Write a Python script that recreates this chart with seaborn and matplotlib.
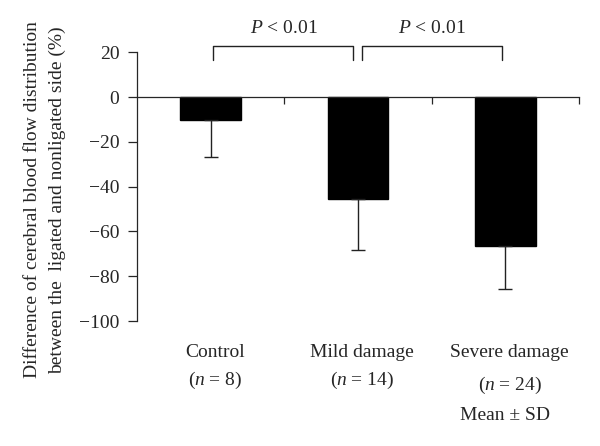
import matplotlib
matplotlib.use('Agg')
import matplotlib.pyplot as plt
import numpy as np
import pandas as pd
import seaborn as sns

# values
groups = ['Control', 'Mild damage', 'Severe damage']
n_labels = ['8', '14', '24']
means = [-10.3, -45.5, -66.5]
sds = [16.5, 22.8, 19.2]

df = pd.DataFrame({'group': groups, 'value': means})

sns.set_style('ticks')
plt.rcParams['font.family'] = ['Liberation Serif', 'DejaVu Serif']
plt.rcParams['mathtext.fontset'] = 'custom'
plt.rcParams['mathtext.rm'] = 'Liberation Serif'
plt.rcParams['mathtext.it'] = 'Liberation Serif:italic'
plt.rcParams['axes.linewidth'] = 0.9
fs = 14

fig = plt.figure(figsize=(6, 4.46), dpi=100)
ax = fig.add_axes([0.228, 0.280, 0.737, 0.603])

sns.barplot(data=df, x='group', y='value', color='black', edgecolor='black',
            saturation=1, width=0.41, errorbar=None, ax=ax)
ax.errorbar(np.arange(len(groups)), means, yerr=[sds, [0] * len(sds)],
            fmt='none', ecolor='#222222', elinewidth=1.0, capsize=5, capthick=1.0)

ax.set_xlim(-0.5, 2.5)
ax.set_ylim(-100, 20)
ax.set_yticks(np.arange(-100, 21, 20))
ax.tick_params(axis='y', direction='out', length=6.5, width=0.9, labelsize=fs, pad=6)
ax.set_xticks([0.5, 1.5, 2.5])
ax.set_xticklabels([])
ax.tick_params(axis='x', direction='out', length=5, width=0.9)
ax.spines['bottom'].set_position(('data', 0))
ax.spines['top'].set_visible(False)
ax.spines['right'].set_visible(False)
ax.set_xlabel('')
ax.set_ylabel('')

# category labels below the plot
for i, (g, n) in enumerate(zip(groups, n_labels)):
    ax.text(i + 0.03, -114, g, ha='center', va='center', fontsize=fs, clip_on=False)
    yy = -128.7 if i == 2 else -126.5
    ax.text(i + 0.03, yy, r'($n\ $= ' + n + ')', ha='center', va='center', fontsize=fs, clip_on=False)
ax.text(2.0, -142, 'Mean ± SD', ha='center', va='center', fontsize=fs, clip_on=False)

# significance brackets
for x0, x1 in [(0.02, 0.97), (1.03, 1.98)]:
    ax.plot([x0, x0, x1, x1], [16.5, 22.8, 22.8, 16.5], color='#222222',
            lw=1.0, clip_on=False)
    ax.text((x0 + x1) / 2, 30.5, '$P$ < 0.01', ha='center', va='center',
            fontsize=fs, clip_on=False)

fig.text(0.075, 0.552, 'Difference of cerebral blood flow distribution\n'
         'between the  ligated and nonligated side (%)',
         rotation=90, ha='center', va='center', fontsize=fs, linespacing=1.55)

fig.savefig('out.png', dpi=100)
